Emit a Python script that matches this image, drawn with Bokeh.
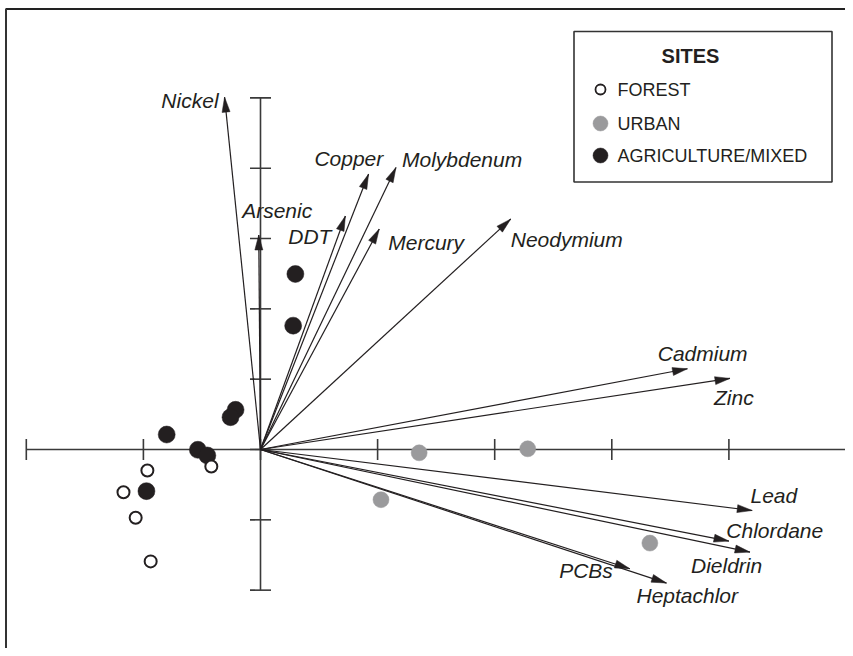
import numpy as np
from bokeh.plotting import figure
from bokeh.models import Range1d, ColumnDataSource
from bokeh.core.properties import value
from bokeh.embed import file_html
from bokeh.resources import INLINE

# ---------------- data ----------------
forest_x = [-0.966, -1.170, -1.066, -0.938, -0.420]
forest_y = [-0.298, -0.607, -0.970, -1.591, -0.241]
urban_x = [1.355, 2.282, 1.029, 3.325]
urban_y = [-0.047, 0.010, -0.714, -1.331]
agri_x = [-0.213, -0.256, -0.801, -0.535, -0.454, -0.974, 0.298, 0.279]
agri_y = [0.564, 0.459, 0.213, -0.004, -0.085, -0.592, 2.496, 1.761]

vec_names = ["Nickel", "Arsenic", "DDT", "Copper", "Molybdenum", "Mercury",
             "Neodymium", "Cadmium", "Zinc", "Lead", "Chlordane", "Dieldrin",
             "PCBs", "Heptachlor"]
vec_x = [-0.307, -0.015, 0.725, 0.923, 1.157, 1.014, 2.137, 3.646, 4.009,
         4.199, 4.000, 4.180, 3.154, 3.467]
vec_y = [5.010, 3.050, 3.320, 3.916, 4.010, 3.135, 3.277, 1.148, 1.011,
         -0.867, -1.302, -1.459, -1.695, -1.899]

x_ticks = [-2, -1, 0, 1, 2, 3, 4, 5]
y_ticks = [-2, -1, 0, 1, 2, 3, 4, 5]

legend_title = "SITES"
legend_labels = ["FOREST", "URBAN", "AGRICULTURE/MIXED"]

# ---------------- styles / layout ----------------
W, H = 845, 648
SX, SY = 117.1, 70.33          # px per unit
OX, OY = 260, 449              # origin in canvas px
BLACK = "#231f20"
GREY = "#9a9a9c"
AXIS = "#3a3a3a"

lab_align = ["right", "left", "right", "right", "left", "left", "left",
             "left", "left", "left", "left", "left", "right", "left"]
lab_dx = [-6, -16.6, -14, 14.7, 6, 9, 0, -29.7, -16, -1.7, -2.6, -59, -17, -30]
lab_dy = [3, -24.5, 20, -16, -7.7, 13.7, 20.7, -15.7, 18.7, -14.5, -10.2, 13.8, 1.7, 12.3]


def DX(cx):
    return (cx - OX) / SX


def DY(cy):
    return (OY - cy) / SY


p = figure(width=W, height=H, output_backend="svg", toolbar_location=None,
           x_range=Range1d(-OX / SX, (W - OX) / SX),
           y_range=Range1d(-(H - OY) / SY, OY / SY),
           min_border=0, min_border_left=0, min_border_right=0,
           min_border_top=0, min_border_bottom=0)
p.axis.visible = False
p.grid.visible = False
p.outline_line_color = None
p.background_fill_color = "white"
p.border_fill_color = "white"

# frame border (top and left only)
p.line([DX(5), DX(W)], [DY(8.5), DY(8.5)], line_color="#222222", line_width=2)
p.line([DX(5.5), DX(5.5)], [DY(8.5), DY(H)], line_color="#333333", line_width=2)

# axes through origin
p.line([min(x_ticks), max(x_ticks)], [0, 0], line_color=AXIS, line_width=1.6)
p.line([0, 0], [min(y_ticks), max(y_ticks)], line_color=AXIS, line_width=1.6)
p.scatter(x=x_ticks, y=[0] * len(x_ticks), marker="dash", size=21, angle=np.pi / 2,
          line_color=AXIS, line_width=1.6)
p.scatter(x=[0] * len(y_ticks), y=y_ticks, marker="dash", size=21,
          line_color=AXIS, line_width=1.6)

# vectors with elongated heads (computed in pixel space)
HL, HW = 15.0, 8.0
head_xs, head_ys = [], []
for tx, ty in zip(vec_x, vec_y):
    px, py = tx * SX, ty * SY
    L = np.hypot(px, py)
    ux, uy = px / L, py / L
    bx, by = px - ux * HL, py - uy * HL
    nx, ny = -uy, ux
    pts = [(px, py), (bx + nx * HW / 2, by + ny * HW / 2), (bx - nx * HW / 2, by - ny * HW / 2)]
    head_xs.append([q[0] / SX for q in pts])
    head_ys.append([q[1] / SY for q in pts])

p.segment(x0=[0] * len(vec_x), y0=[0] * len(vec_y), x1=vec_x, y1=vec_y,
          line_color=BLACK, line_width=1.2)
p.patches(xs=head_xs, ys=head_ys, fill_color=BLACK, line_color=BLACK, line_width=0.5)

lab_src = ColumnDataSource(dict(x=vec_x, y=vec_y, text=vec_names, align=lab_align,
                                dx=lab_dx, dy=lab_dy))
p.text(x="x", y="y", text="text", source=lab_src, text_align="align",
       x_offset="dx", y_offset="dy", text_baseline="middle",
       text_font=value("Liberation Sans"), text_font_style="italic",
       text_font_size="21px", text_color=BLACK)

# sites
p.scatter(agri_x, agri_y, size=17, fill_color=BLACK, line_color=BLACK, line_width=0.5)
p.scatter(forest_x, forest_y, size=12, fill_color="white", line_color=BLACK, line_width=2)
p.scatter(urban_x, urban_y, size=16, fill_color=GREY, line_color=GREY, line_width=0.5)

# legend (drawn manually)
p.quad(left=[DX(573.5)], right=[DX(831.5)], top=[DY(31)], bottom=[DY(181.5)],
       fill_color="white", line_color="#333333", line_width=1.6)
p.text(x=[DX(690)], y=[DY(55)], text=[legend_title], text_align="center",
       text_baseline="middle", text_font=value("Liberation Sans"),
       text_font_style="bold", text_font_size="20px", text_color=BLACK)
leg_y = [DY(89), DY(123), DY(155)]
p.scatter([DX(600)], [leg_y[0]], size=10, fill_color="white", line_color=BLACK, line_width=1.8)
p.scatter([DX(600)], [leg_y[1]], size=15, fill_color=GREY, line_color=GREY, line_width=0.5)
p.scatter([DX(600)], [leg_y[2]], size=15, fill_color=BLACK, line_color=BLACK, line_width=0.5)
p.text(x=[DX(617)] * 3, y=leg_y, text=legend_labels, text_align="left",
       text_baseline="middle", text_font=value("Liberation Sans"),
       text_font_size="18px", text_color=BLACK)

open("out.html", "w").write(file_html(p, INLINE))
